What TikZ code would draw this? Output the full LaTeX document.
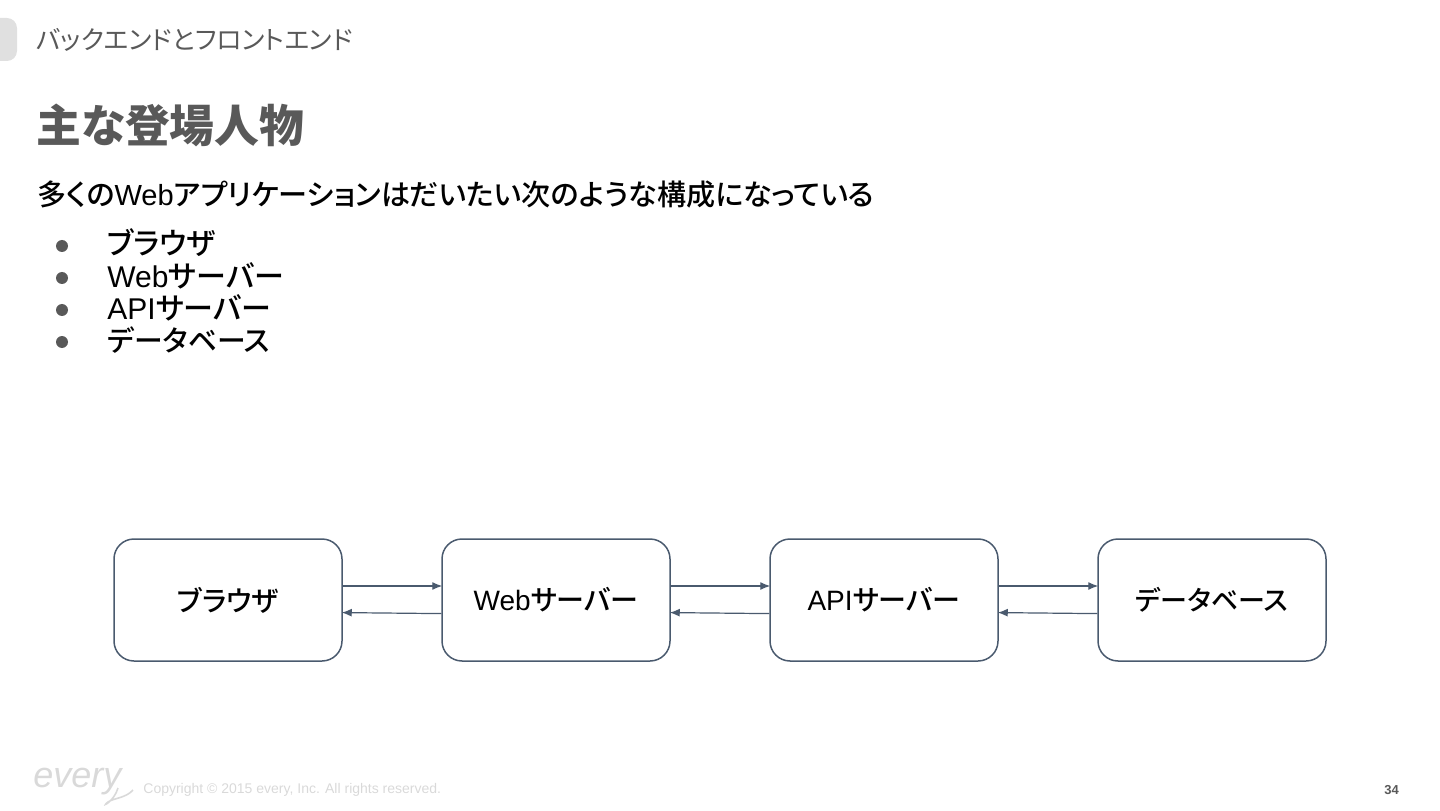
\documentclass[tikz,border=0pt]{standalone}
\usepackage{fontspec}
\setmainfont{Liberation Sans}
\newfontfamily\cjk[RawFeature=+palt]{Noto Sans CJK JP}
\newfontfamily\cjkmed[RawFeature=+palt]{Noto Sans CJK JP Medium}
\usepackage{tikz}
\usetikzlibrary{arrows.meta, positioning}
\usepackage{xcolor}
\definecolor{boxline}{HTML}{4A5A6E}
\definecolor{headgray}{HTML}{595959}
\definecolor{tabgray}{HTML}{E0E0E0}
\definecolor{footgray}{HTML}{D9D9D9}

\begin{document}
\begin{tikzpicture}[x=0.5pt, y=0.5pt, node distance=164pt,
    serverbox/.style={draw=boxline, line width=0.75pt, rounded corners=10pt, minimum width=114pt, minimum height=61pt, inner sep=0pt, font=\fontsize{14}{16}\selectfont, text=black},
    flowline/.style={draw=boxline, line width=0.6pt, shorten >=-0.5pt, -{Latex[length=5pt, width=4pt]}},
    plaintext/.style={inner sep=0pt, anchor=west, text=black},
    bulletdot/.style={circle, fill=headgray, minimum size=6pt, inner sep=0pt}]
  \useasboundingbox (0,0) rectangle (1440,810);
  \fill[tabgray, rounded corners=5pt] (-20,749) rectangle (17,792);

  \node (section) [plaintext, text=headgray, font=\fontsize{12.9}{16}\selectfont] at (36,770) {\cjk バックエンドとフロントエンド};
  \node (heading) [plaintext, text=headgray, font=\fontsize{22.4}{28}\selectfont\bfseries] at (36,685) {\cjk 主な登場人物};
  \node (lead) [plaintext, font=\fontsize{14.55}{18}\selectfont] at (37,615) {{\cjkmed 多くの}Web{\cjkmed アプリケーションはだいたい次のような構成になっている}};

  \node (dot1) [bulletdot] at (62,564) {};
  \node (dot2) [bulletdot, below=9.6pt of dot1] {};
  \node (dot3) [bulletdot, below=9.6pt of dot2] {};
  \node (dot4) [bulletdot, below=9.6pt of dot3] {};
  \node (item1) [plaintext, font=\fontsize{15}{18}\selectfont] at (107,567) {\cjkmed ブラウザ};
  \node (item2) [plaintext, font=\fontsize{15}{18}\selectfont] at (107,534) {Web{\cjkmed サーバー}};
  \node (item3) [plaintext, font=\fontsize{15}{18}\selectfont] at (107,502) {API{\cjkmed サーバー}};
  \node (item4) [plaintext, font=\fontsize{14.4}{18}\selectfont] at (107,470) {\cjkmed データベース};

  \node (browser) [serverbox] at (228,210) {\cjkmed ブラウザ};
  \node (web) [serverbox, right of=browser] {Web{\cjkmed サーバー}};
  \node (api) [serverbox, right of=web] {API{\cjkmed サーバー}};
  \node (db) [serverbox, right of=api, font=\fontsize{13.5}{16}\selectfont] {\cjkmed データベース};

  \draw[flowline] ([yshift=7pt]browser.east) -- ([yshift=7pt]web.west);
  \draw[flowline] ([yshift=-6.8pt]web.west) -- ([yshift=-6.3pt]browser.east);
  \draw[flowline] ([yshift=7pt]web.east) -- ([yshift=7pt]api.west);
  \draw[flowline] ([yshift=-6.8pt]api.west) -- ([yshift=-6.3pt]web.east);
  \draw[flowline] ([yshift=7pt]api.east) -- ([yshift=7pt]db.west);
  \draw[flowline] ([yshift=-6.8pt]db.west) -- ([yshift=-6.3pt]api.east);

  \node (logo) [plaintext, text=footgray, font=\fontsize{18}{18}\selectfont\itshape] at (33,28) {every};
  \draw[footgray, line width=0.8pt] (118,22) .. controls (114,8) and (100,2) .. (108,8) .. controls (114,12) and (126,12) .. (133,20);
  \node (copyright) [plaintext, text=footgray, font=\fontsize{7}{9}\selectfont] at (143,20) {Copyright © 2015 every, Inc. All rights reserved.};
  \node (pagenum) [plaintext, text=headgray, font=\fontsize{6.5}{8}\selectfont\bfseries] at (1384,20) {34};
\end{tikzpicture}
\end{document}
